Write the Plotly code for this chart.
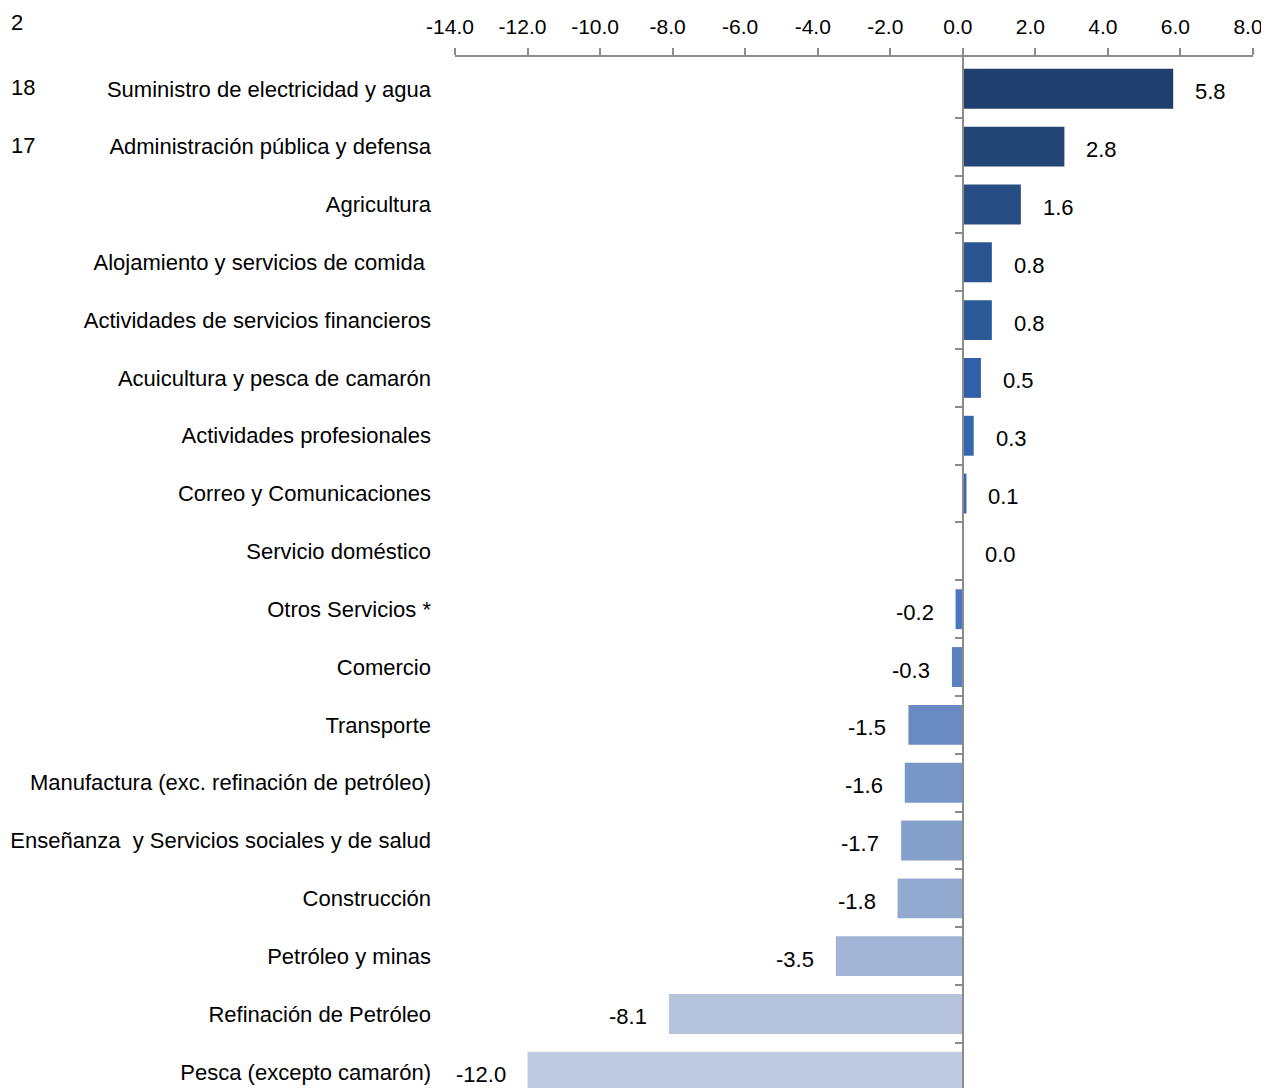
import plotly.graph_objects as go

FONT = "Liberation Sans Narrow, Arial Narrow, Liberation Sans, Arial, sans-serif"

sectors = [
    "Suministro de electricidad y agua",
    "Administración pública y defensa",
    "Agricultura",
    "Alojamiento y servicios de comida ",
    "Actividades de servicios financieros",
    "Acuicultura y pesca de camarón",
    "Actividades profesionales",
    "Correo y Comunicaciones",
    "Servicio doméstico",
    "Otros Servicios *",
    "Comercio",
    "Transporte",
    "Manufactura (exc. refinación de petróleo)",
    "Enseñanza  y Servicios sociales y de salud",
    "Construcción",
    "Petróleo y minas",
    "Refinación de Petróleo",
    "Pesca (excepto camarón)",
]
growth = [5.8, 2.8, 1.6, 0.8, 0.8, 0.5, 0.3, 0.1, 0.0, -0.2, -0.3,
          -1.5, -1.6, -1.7, -1.8, -3.5, -8.1, -12.0]
bar_colors = [
    "#1F3F6F", "#234676", "#274E84", "#2A5592", "#2C5A98", "#3060A8",
    "#3465AF", "#3768B5", "#3A6CBA", "#4A78C0", "#5A82C0", "#6A8BC2",
    "#7896C8", "#86A0CC", "#93AACF", "#A3B5D6", "#B4C2DC", "#BFCBE0",
]
x_ticks = [-14, -12, -10, -8, -6, -4, -2, 0, 2, 4, 6, 8]
x_tick_text = ["-14.0", "-12.0", "-10.0", "-8.0", "-6.0", "-4.0", "-2.0",
               "0.0", "2.0", "4.0", "6.0", "8.0"]
boundaries = [i + 0.5 for i in range(len(sectors) - 1)]
y_range = [17.28, -0.55]

# cut-off fragments of neighbouring content at the left edge
edge_texts = ["2", "18", "17"]
edge_y = [1.033, 0.970, 0.914]

fig = go.Figure()
fig.add_trace(go.Bar(
    x=growth, y=sectors, orientation="h",
    marker=dict(color=bar_colors, line=dict(width=0)),
    width=0.69, hoverinfo="x+y",
))
# invisible helper so the zero-line axis (yaxis2) gets drawn
fig.add_trace(go.Scatter(
    x=[0], y=[0], yaxis="y2", mode="markers",
    marker=dict(opacity=0), hoverinfo="skip",
))

for s, v in zip(sectors, growth):
    fig.add_annotation(
        x=v, y=s, text=f"{v:.1f}", showarrow=False,
        xanchor="right" if v < 0 else "left", yanchor="middle",
        xshift=-20 if v < 0 else 20, yshift=-3,
        font=dict(family=FONT, size=22, color="#000000"),
    )

for txt, py in zip(edge_texts, edge_y):
    fig.add_annotation(
        x=-0.5595, y=py, xref="paper", yref="paper", text=txt,
        showarrow=False, xanchor="left", yanchor="middle",
        font=dict(family=FONT, size=22, color="#000000"),
    )

# page body adds an 8px offset, margins compensate for it
fig.update_layout(
    width=1261, height=1088,
    margin=dict(l=447, r=16, t=49, b=8),
    plot_bgcolor="white", paper_bgcolor="white",
    showlegend=False,
    font=dict(family=FONT, size=22, color="#000000"),
    xaxis=dict(
        side="top", range=[-14, 8], tickvals=x_ticks, ticktext=x_tick_text,
        ticks="outside", ticklen=7, tickcolor="#8C8C8C", tickwidth=2,
        ticklabelstandoff=6, ticklabelshift=-5,
        showline=True, linecolor="#8C8C8C", linewidth=2,
        showgrid=False, zeroline=False, automargin=False,
        tickfont=dict(family=FONT, size=21),
    ),
    yaxis=dict(
        range=y_range, showgrid=False, zeroline=False, showline=False,
        ticks="", ticklabelstandoff=23, automargin=False,
        tickfont=dict(family=FONT, size=22),
    ),
    yaxis2=dict(
        overlaying="y", anchor="free", position=14 / 22, side="left",
        range=y_range, tickvals=boundaries, ticks="outside", ticklen=7,
        tickcolor="#8C8C8C", tickwidth=2, showticklabels=False,
        showline=True, linecolor="#8C8C8C", linewidth=2,
        showgrid=False, zeroline=False, automargin=False,
    ),
)

fig.write_html("out.html")
